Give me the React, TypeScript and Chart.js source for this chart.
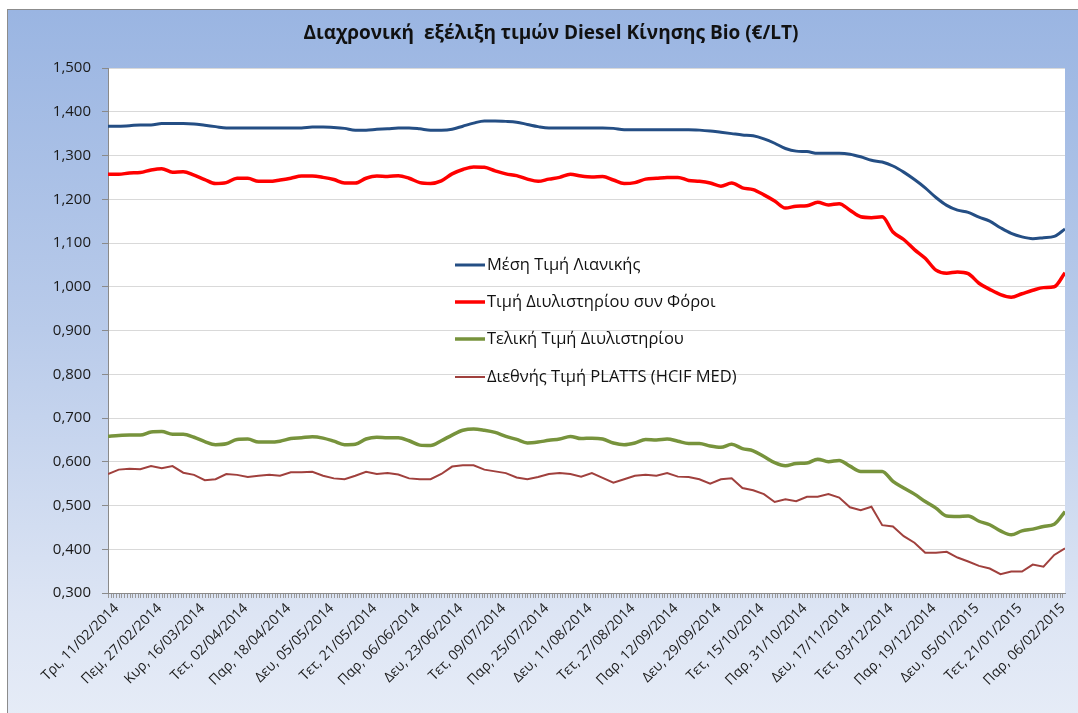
import React, { useEffect, useRef } from "react";
import { Chart, registerables } from "chart.js";

Chart.register(...registerables);

const xLabels = [
  "Τρι, 11/02/2014", "Πεμ, 27/02/2014", "Κυρ, 16/03/2014", "Τετ, 02/04/2014",
  "Παρ, 18/04/2014", "Δευ, 05/05/2014", "Τετ, 21/05/2014", "Παρ, 06/06/2014",
  "Δευ, 23/06/2014", "Τετ, 09/07/2014", "Παρ, 25/07/2014", "Δευ, 11/08/2014",
  "Τετ, 27/08/2014", "Παρ, 12/09/2014", "Δευ, 29/09/2014", "Τετ, 15/10/2014",
  "Παρ, 31/10/2014", "Δευ, 17/11/2014", "Τετ, 03/12/2014", "Παρ, 19/12/2014",
  "Δευ, 05/01/2015", "Τετ, 21/01/2015", "Παρ, 06/02/2015",
];

const seriesNames = [
  "Μέση Τιμή Λιανικής",
  "Τιμή Διυλιστηρίου συν Φόροι",
  "Τελική Τιμή Διυλιστηρίου",
  "Διεθνής Τιμή PLATTS (HCIF MED)",
];

// sampled every quarter of a label interval, starting slightly before the first label
const retail = [
  1.367, 1.367, 1.368, 1.370, 1.370, 1.373, 1.373, 1.373, 1.372, 1.369,
  1.366, 1.363, 1.363, 1.363, 1.363, 1.363, 1.363, 1.363, 1.363, 1.365,
  1.365, 1.364, 1.362, 1.358, 1.358, 1.360, 1.361, 1.363, 1.363, 1.361,
  1.358, 1.358, 1.360, 1.367, 1.374, 1.379, 1.379, 1.378, 1.376, 1.371,
  1.366, 1.363, 1.363, 1.363, 1.363, 1.363, 1.363, 1.362, 1.359, 1.359,
  1.359, 1.359, 1.359, 1.359, 1.359, 1.358, 1.356, 1.353, 1.350, 1.347,
  1.345, 1.338, 1.328, 1.316, 1.310, 1.309, 1.305, 1.305, 1.305, 1.303,
  1.297, 1.289, 1.285, 1.276, 1.262, 1.245, 1.226, 1.204, 1.186, 1.175,
  1.170, 1.159, 1.150, 1.135, 1.122, 1.114, 1.110, 1.112, 1.115, 1.132,
];

const refineryTax = [
  1.257, 1.257, 1.260, 1.261, 1.267, 1.270, 1.262, 1.263, 1.255, 1.245,
  1.236, 1.238, 1.248, 1.248, 1.241, 1.241, 1.244, 1.248, 1.253, 1.253,
  1.250, 1.245, 1.237, 1.237, 1.248, 1.253, 1.252, 1.254, 1.248, 1.238,
  1.236, 1.242, 1.258, 1.268, 1.274, 1.273, 1.265, 1.258, 1.254, 1.246,
  1.241, 1.246, 1.250, 1.257, 1.253, 1.251, 1.252, 1.244, 1.236, 1.238,
  1.246, 1.248, 1.250, 1.250, 1.243, 1.241, 1.237, 1.230, 1.237, 1.226,
  1.222, 1.210, 1.196, 1.180, 1.184, 1.185, 1.193, 1.187, 1.190, 1.175,
  1.160, 1.158, 1.160, 1.125, 1.108, 1.085, 1.065, 1.038, 1.031, 1.034,
  1.030, 1.008, 0.994, 0.982, 0.976, 0.984, 0.992, 0.998, 1.000, 1.032,
];

const refineryFinal = [
  0.658, 0.660, 0.661, 0.661, 0.668, 0.669, 0.663, 0.663, 0.656, 0.646,
  0.639, 0.641, 0.651, 0.652, 0.645, 0.645, 0.647, 0.653, 0.655, 0.657,
  0.654, 0.647, 0.639, 0.640, 0.652, 0.656, 0.655, 0.655, 0.648, 0.638,
  0.637, 0.648, 0.661, 0.672, 0.675, 0.672, 0.667, 0.658, 0.651, 0.643,
  0.645, 0.649, 0.652, 0.658, 0.653, 0.654, 0.652, 0.643, 0.639, 0.643,
  0.651, 0.650, 0.652, 0.647, 0.642, 0.642, 0.636, 0.633, 0.640, 0.630,
  0.625, 0.612, 0.598, 0.591, 0.596, 0.597, 0.606, 0.600, 0.603, 0.590,
  0.578, 0.578, 0.578, 0.555, 0.540, 0.526, 0.509, 0.494, 0.476, 0.475,
  0.476, 0.464, 0.456, 0.442, 0.433, 0.442, 0.446, 0.452, 0.457, 0.486,
];

const platts = [
  0.572, 0.582, 0.584, 0.583, 0.590, 0.585, 0.590, 0.575, 0.570, 0.558,
  0.560, 0.572, 0.570, 0.565, 0.568, 0.570, 0.568, 0.576, 0.576, 0.577,
  0.568, 0.562, 0.560, 0.568, 0.577, 0.572, 0.574, 0.571, 0.562, 0.560,
  0.560, 0.572, 0.589, 0.592, 0.592, 0.582, 0.578, 0.574, 0.564, 0.560,
  0.565, 0.572, 0.574, 0.572, 0.566, 0.574, 0.563, 0.552, 0.560, 0.568,
  0.570, 0.568, 0.574, 0.566, 0.565, 0.560, 0.550, 0.560, 0.562, 0.540,
  0.535, 0.526, 0.508, 0.514, 0.510, 0.520, 0.520, 0.526, 0.518, 0.496,
  0.489, 0.497, 0.455, 0.452, 0.430, 0.415, 0.392, 0.392, 0.394, 0.381,
  0.372, 0.362, 0.356, 0.343, 0.349, 0.349, 0.365, 0.360, 0.387, 0.402,
];

const X_START = -0.2;
const X_STEP = 0.25;
const X_END = 22.05;
const MINOR_PER_LABEL = 16;

const FONT = "'Open Sans', 'DejaVu Sans', sans-serif";

const toPoints = (arr: number[]) => arr.map((y, i) => ({ x: X_START + i * X_STEP, y }));

const plotBgPlugin = {
  id: "plotBg",
  beforeDraw(chart: any) {
    const { ctx, chartArea } = chart;
    ctx.save();
    ctx.fillStyle = "#ffffff";
    ctx.fillRect(chartArea.left, chartArea.top, chartArea.right - chartArea.left, chartArea.bottom - chartArea.top);
    ctx.restore();
  },
};

const titlePlugin = {
  id: "customTitle",
  afterDraw(chart: any) {
    const { ctx } = chart;
    ctx.save();
    ctx.font = `bold 19px ${FONT}`;
    ctx.fillStyle = "#111111";
    ctx.textAlign = "center";
    ctx.textBaseline = "middle";
    ctx.fillText("Διαχρονική  εξέλιξη τιμών Diesel Κίνησης Bio (€/LT)", 543, 24);
    ctx.restore();
  },
};

const legendPlugin = {
  id: "customLegend",
  afterDraw(chart: any) {
    const { ctx } = chart;
    const rows = [255, 292, 329, 367];
    ctx.save();
    chart.data.datasets.forEach((ds: any, i: number) => {
      const y = rows[i];
      ctx.strokeStyle = ds.borderColor;
      ctx.lineWidth = ds.borderWidth;
      ctx.beginPath();
      ctx.moveTo(447, y);
      ctx.lineTo(477, y);
      ctx.stroke();
      ctx.font = `16.5px ${FONT}`;
      ctx.fillStyle = "#111111";
      ctx.textAlign = "left";
      ctx.textBaseline = "middle";
      ctx.fillText(ds.label, 479, y);
    });
    ctx.restore();
  },
};

export default function App() {
  const canvasRef = useRef<HTMLCanvasElement | null>(null);

  useEffect(() => {
    if (!canvasRef.current) return;
    const chart = new Chart(canvasRef.current, {
      type: "line",
      data: {
        datasets: [
          { label: seriesNames[0], data: toPoints(retail), borderColor: "#244e84", borderWidth: 3, pointRadius: 0, cubicInterpolationMode: "monotone" },
          { label: seriesNames[1], data: toPoints(refineryTax), borderColor: "#ff0000", borderWidth: 3.5, pointRadius: 0, cubicInterpolationMode: "monotone" },
          { label: seriesNames[2], data: toPoints(refineryFinal), borderColor: "#77933c", borderWidth: 3.5, pointRadius: 0, cubicInterpolationMode: "monotone" },
          { label: seriesNames[3], data: toPoints(platts), borderColor: "#a0403d", borderWidth: 2, pointRadius: 0, tension: 0 },
        ],
      },
      options: {
        animation: false,
        responsive: false,
        maintainAspectRatio: false,
        layout: { padding: { left: 0, top: 58, right: 13, bottom: 0 } },
        plugins: { legend: { display: false }, title: { display: false }, tooltip: { enabled: false } },
        scales: {
          x: {
            type: "linear",
            min: X_START,
            max: X_END,
            afterBuildTicks: (scale: any) => {
              const ticks = [];
              for (let k = Math.ceil(X_START * MINOR_PER_LABEL); k <= Math.floor(X_END * MINOR_PER_LABEL); k++) {
                ticks.push({ value: k / MINOR_PER_LABEL });
              }
              scale.ticks = ticks;
            },
            afterFit: (scale: any) => { scale.height = 120; },
            grid: { drawOnChartArea: false, drawTicks: true, tickLength: 5, color: "#9a9a9a", lineWidth: 1 },
            border: { color: "#8a8a8a", width: 1 },
            ticks: {
              autoSkip: false,
              minRotation: 45,
              maxRotation: 45,
              padding: 2,
              color: "#1a1a1a",
              font: { family: FONT, size: 14 },
              callback: (value: any) => {
                const k = Math.round(Number(value) * MINOR_PER_LABEL);
                return k % MINOR_PER_LABEL === 0 && k >= 0 ? xLabels[k / MINOR_PER_LABEL] ?? "" : "";
              },
            },
          },
          y: {
            min: 0.3,
            max: 1.5,
            afterFit: (scale: any) => { scale.width = 100; },
            grid: { color: "#d9d9d9", lineWidth: 1, tickLength: 6, tickColor: "#8a8a8a" },
            border: { color: "#8a8a8a", width: 1 },
            ticks: {
              stepSize: 0.1,
              padding: 11,
              color: "#1a1a1a",
              font: { family: FONT, size: 15 },
              callback: (value: any) => (Math.round(Number(value) * 1000) / 1000).toFixed(3).replace(".", ","),
            },
          },
        },
      },
      plugins: [plotBgPlugin, titlePlugin, legendPlugin],
    } as any);
    return () => chart.destroy();
  }, []);

  return (
    <div style={{ position: "fixed", left: 0, top: 0, width: 1078, height: 713, background: "#ffffff", overflow: "hidden" }}>
      <div
        style={{
          position: "absolute",
          left: 7,
          top: 9,
          width: 1080,
          height: 710,
          borderLeft: "1px solid #8c8c8c",
          borderTop: "1px solid #8c8c8c",
          background: "linear-gradient(to bottom, #9ab5e2 0%, #b9cbea 45%, #dde5f4 85%, #e6ecf7 100%)",
        }}
      />
      <canvas ref={canvasRef} width={1070} height={703} style={{ position: "absolute", left: 8, top: 10, width: 1070, height: 703 }} />
    </div>
  );
}
